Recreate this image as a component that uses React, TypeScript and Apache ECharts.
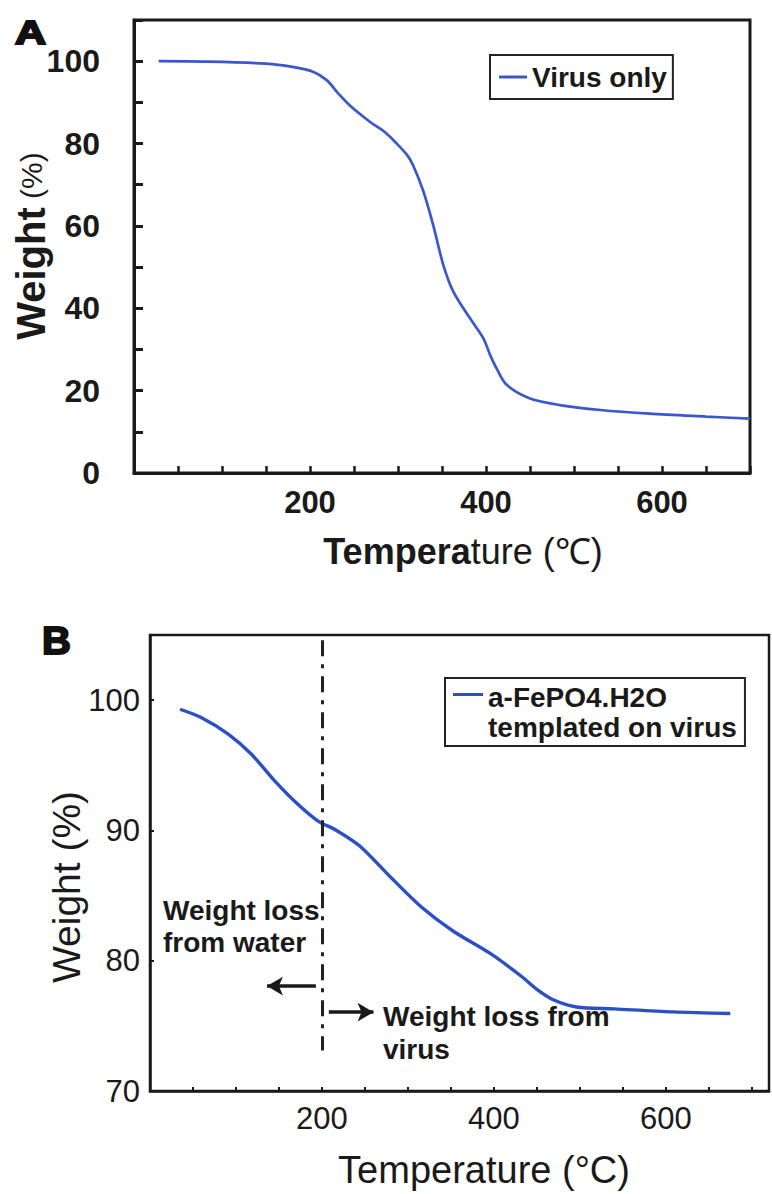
import React, { useEffect, useRef } from "react";
import * as echarts from "echarts";

const FONT = "'Liberation Sans', Arial, Helvetica, sans-serif";

// Panel A: virus only
const virusTemp = [28, 80, 150, 180, 204, 219, 232, 245, 268, 285, 298.5, 310, 317, 329, 340, 351.5, 363, 382, 397, 405, 412, 423.5, 450, 484, 530, 586, 650, 700];
const virusWeight = [100, 99.9, 99.4, 98.6, 97.4, 95.4, 92.2, 89.3, 85.3, 82.8, 80, 77.3, 74.8, 68.3, 60.2, 50.5, 44, 37.5, 32.7, 28.5, 25.4, 21.4, 18.1, 16.5, 15.3, 14.4, 13.7, 13.2];

// Panel B: a-FePO4.H2O templated on virus
const fepoTemp = [35, 60, 91, 118, 145, 172, 195, 217, 244, 280, 316, 352, 397, 433, 450, 469, 496, 540, 608, 675];
const fepoWeight = [99.3, 98.65, 97.4, 95.85, 93.8, 92.0, 90.74, 90.0, 88.8, 86.4, 84.1, 82.3, 80.5, 78.75, 77.8, 77.0, 76.45, 76.3, 76.07, 75.95];

// tick labels
const xTickLabels = [200, 400, 600];
const yTickLabelsA = [0, 20, 40, 60, 80, 100];
const yTickLabelsB = [70, 80, 90, 100];

// annotation anchors (data coordinates of panel B)
const dividerTemp = 200;
const dividerRange = [104.6, 73.1];
const waterArrow = { from: [193, 78.05], to: [136, 78.05] };
const virusArrow = { from: [208, 76.05], to: [260, 76.05] };

const nameA = "Virus only";
const nameB = "a-FePO4.H2O\ntemplated on virus";

const zip = (xs: number[], ys: number[]) => xs.map((x, i) => [x, ys[i]]);

export default function App() {
  const ref = useRef<HTMLDivElement>(null);

  useEffect(() => {
    document.body.style.margin = "0";
    if (!ref.current) return;
    const chart = echarts.init(ref.current, null, { renderer: "svg" });
    const axisColor = "#1a1a1a";
    const textColor = "#1a1a1a";

    const option: any = {
      animation: false,
      backgroundColor: "#ffffff",
      textStyle: { fontFamily: FONT },
      grid: [
        { left: 134, top: 20, width: 616, height: 453, show: true, borderColor: axisColor, borderWidth: 3, backgroundColor: "transparent" },
        { left: 150, top: 635, width: 635.4, height: 456, show: true, borderColor: axisColor, borderWidth: 2.5, backgroundColor: "transparent" },
      ],
      xAxis: [
        {
          type: "value", gridIndex: 0, min: 0, max: 700, interval: 50,
          axisLine: { show: true, onZero: false, lineStyle: { color: axisColor, width: 3 } },
          axisTick: { show: true, inside: true, length: 7, lineStyle: { color: axisColor, width: 2.5 } },
          splitLine: { show: false },
          axisLabel: {
            margin: 14, fontSize: 31, fontWeight: "bold", color: textColor, fontFamily: FONT,
            formatter: (v: number) => (xTickLabels.includes(v) ? String(v) : ""),
          },
        },
        {
          type: "value", gridIndex: 1, min: 0, max: 720, interval: 50,
          axisLine: { show: true, onZero: false, lineStyle: { color: axisColor, width: 2.5 } },
          axisTick: { show: true, inside: true, length: 4, lineStyle: { color: axisColor, width: 2 } },
          splitLine: { show: false },
          axisLabel: {
            margin: 12, fontSize: 31, color: textColor, fontFamily: FONT,
            formatter: (v: number) => (xTickLabels.includes(v) ? String(v) : ""),
          },
        },
      ],
      yAxis: [
        {
          type: "value", gridIndex: 0, min: 0, max: 110, interval: 10,
          axisLine: { show: true, onZero: false, lineStyle: { color: axisColor, width: 3 } },
          axisTick: { show: true, inside: true, length: 9, lineStyle: { color: axisColor, width: 3 } },
          splitLine: { show: false },
          axisLabel: {
            margin: 34, fontSize: 32, fontWeight: "bold", color: textColor, fontFamily: FONT,
            formatter: (v: number) => (yTickLabelsA.includes(v) ? String(v) : ""),
          },
        },
        {
          type: "value", gridIndex: 1, min: 70, max: 105, interval: 10,
          axisLine: { show: true, onZero: false, lineStyle: { color: axisColor, width: 2.5 } },
          axisTick: { show: true, inside: true, length: 4, lineStyle: { color: axisColor, width: 2 } },
          splitLine: { show: false },
          axisLabel: {
            margin: 10, fontSize: 31, color: textColor, fontFamily: FONT,
            formatter: (v: number) => (yTickLabelsB.includes(v) ? String(v) : ""),
          },
        },
      ],
      legend: [
        {
          data: [nameA], left: 490, top: 55, padding: [7, 6, 7, 9],
          itemWidth: 28, itemHeight: 3, icon: "rect", itemStyle: { borderWidth: 0 },
          borderColor: "#222", borderWidth: 2, selectedMode: false,
          textStyle: { fontSize: 28, fontWeight: "bold", color: textColor, fontFamily: FONT, lineHeight: 30 },
        },
        {
          data: [nameB], left: 445, top: 678, padding: [4, 8, 4, 8],
          itemWidth: 30, itemHeight: 60,
          icon: "path://M0,0h0.05v0.05h-0.05z M0,11h30v3h-30z M0,59.95h0.05v0.05h-0.05z",
          itemStyle: { borderWidth: 0 },
          borderColor: "#222", borderWidth: 2, selectedMode: false,
          textStyle: { fontSize: 28, fontWeight: "bold", color: textColor, fontFamily: FONT, lineHeight: 30 },
        },
      ],
      series: [
        {
          name: nameA, type: "line", xAxisIndex: 0, yAxisIndex: 0,
          data: zip(virusTemp, virusWeight), showSymbol: false, symbol: "none", smooth: 0.3,
          itemStyle: { color: "#3a58cc" }, lineStyle: { color: "#3a58cc", width: 2.7 },
        },
        {
          name: nameB, type: "line", xAxisIndex: 1, yAxisIndex: 1,
          data: zip(fepoTemp, fepoWeight), showSymbol: false, symbol: "none", smooth: 0.3,
          itemStyle: { color: "#2b4fc6" }, lineStyle: { color: "#2b4fc6", width: 3.4 },
          markLine: {
            silent: true, symbol: ["none", "none"], label: { show: false },
            emphasis: { disabled: true },
            data: [
              [
                { coord: [dividerTemp, dividerRange[0]], lineStyle: { color: "#222", width: 3, type: [16, 8, 4, 8] } },
                { coord: [dividerTemp, dividerRange[1]], lineStyle: { color: "#222", width: 3, type: [16, 8, 4, 8] } },
              ],
              [
                { coord: waterArrow.from, symbol: "none", lineStyle: { color: "#1a1a1a", width: 3.5, type: "solid" } },
                { coord: waterArrow.to, symbol: "arrow", symbolSize: [14, 16], lineStyle: { color: "#1a1a1a", width: 3.5, type: "solid" } },
              ],
              [
                { coord: virusArrow.from, symbol: "none", lineStyle: { color: "#1a1a1a", width: 3.5, type: "solid" } },
                { coord: virusArrow.to, symbol: "arrow", symbolSize: [14, 16], lineStyle: { color: "#1a1a1a", width: 3.5, type: "solid" } },
              ],
            ],
          },
        },
      ],
      graphic: [
        {
          type: "text", x: 15, y: 32, scaleX: 1.3,
          style: { text: "A", fontSize: 33, fontWeight: "bold", fontFamily: FONT, fill: "#111", stroke: "#111", lineWidth: 2, verticalAlign: "middle" },
        },
        {
          type: "text", x: 42, y: 641, scaleX: 1.05,
          style: { text: "B", fontSize: 38, fontWeight: "bold", fontFamily: FONT, fill: "#111", stroke: "#111", lineWidth: 2, verticalAlign: "middle" },
        },
        {
          type: "text", x: 31, y: 246, rotation: Math.PI / 2,
          style: {
            text: "{b|Weight}{n| (%)}", align: "center", verticalAlign: "middle", fill: textColor,
            rich: {
              b: { fontSize: 40, fontWeight: "bold", fontFamily: FONT, fill: textColor },
              n: { fontSize: 30, fontFamily: FONT, fill: textColor },
            },
          },
        },
        {
          type: "text", x: 463, y: 551,
          style: {
            text: "{b|Tempera}{n|ture (℃)}", align: "center", verticalAlign: "middle", fill: textColor,
            rich: {
              b: { fontSize: 36, fontWeight: "bold", fontFamily: FONT, fill: textColor },
              n: { fontSize: 36, fontFamily: FONT, fill: textColor },
            },
          },
        },
        {
          type: "text", x: 66, y: 887, rotation: Math.PI / 2,
          style: { text: "Weight (%)", fontSize: 39, fontFamily: FONT, fill: textColor, align: "center", verticalAlign: "middle" },
        },
        {
          type: "text", x: 484, y: 1170,
          style: { text: "Temperature (°C)", fontSize: 38, fontFamily: FONT, fill: textColor, align: "center", verticalAlign: "middle" },
        },
        {
          type: "text", x: 163, y: 926,
          style: { text: "Weight loss\nfrom water", fontSize: 28, fontWeight: "bold", lineHeight: 32, fontFamily: FONT, fill: textColor, align: "left", verticalAlign: "middle" },
        },
        {
          type: "text", x: 383, y: 1033,
          style: { text: "Weight loss from\nvirus", fontSize: 28, fontWeight: "bold", lineHeight: 33, fontFamily: FONT, fill: textColor, align: "left", verticalAlign: "middle" },
        },
      ],
    };

    chart.setOption(option);
    return () => chart.dispose();
  }, []);

  return <div ref={ref} style={{ position: "absolute", left: 0, top: 0, width: 772, height: 1194 }} />;
}
